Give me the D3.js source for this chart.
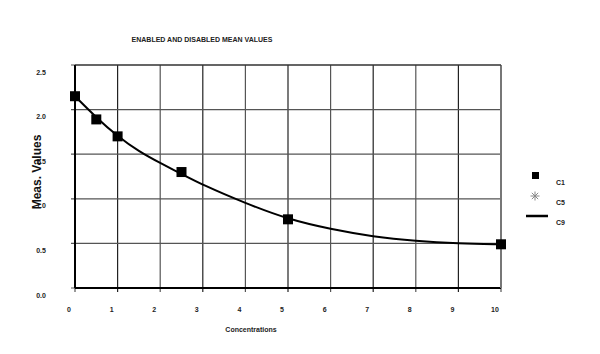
<!DOCTYPE html>
<html>
<head>
<meta charset="utf-8">
<script src="https://cdn.jsdelivr.net/npm/d3@7"></script>
<style>
  body { margin: 0; background: #fff; }
  svg { display: block; font-family: "Liberation Sans", Arial, sans-serif; }
</style>
</head>
<body>
<div id="chart"></div>
<script>
// C1 measured points
const c1X = [0, 0.5, 1, 2.5, 5, 10];
const c1Y = [2.15, 1.89, 1.70, 1.30, 0.77, 0.49];
// C9 fitted curve
const c9X = [0, 0.5, 1, 1.5, 2, 2.5, 3, 4, 5, 6, 7, 8, 9, 10];
const c9Y = [2.15, 1.91, 1.70, 1.53, 1.40, 1.28, 1.155, 0.95, 0.77, 0.66, 0.575, 0.527, 0.50, 0.49];
const xTicks = [0, 1, 2, 3, 4, 5, 6, 7, 8, 9, 10];
const yTicks = [0.0, 0.5, 1.0, 1.5, 2.0, 2.5];
const legendNames = ["C1", "C5", "C9"];

const width = 600, height = 354;
const svg = d3.select("#chart").append("svg")
  .attr("width", width)
  .attr("height", height);

const x = d3.scaleLinear().domain([0, 10]).range([75, 501]);
const y = d3.scaleLinear().domain([0, 2.5]).range([288, 65]);

// grid
const grid = svg.append("g");
grid.selectAll(".vg")
  .data(xTicks)
  .join("line")
  .attr("x1", d => x(d)).attr("x2", d => x(d))
  .attr("y1", y(2.5)).attr("y2", y(0) + 4)
  .attr("stroke", (d, i) => i % 2 ? "#222" : "#555")
  .attr("stroke-width", 1.2);
grid.selectAll(".hg")
  .data(yTicks)
  .join("line")
  .attr("x1", x(0) - 4).attr("x2", x(10))
  .attr("y1", d => y(d)).attr("y2", d => y(d))
  .attr("stroke", "#555")
  .attr("stroke-width", 1.2);

// frame
svg.append("line")
  .attr("x1", x(0)).attr("x2", x(0))
  .attr("y1", y(2.5)).attr("y2", y(0))
  .attr("stroke", "#000").attr("stroke-width", 2);
svg.append("line")
  .attr("x1", x(0)).attr("x2", x(10))
  .attr("y1", y(0)).attr("y2", y(0))
  .attr("stroke", "#000").attr("stroke-width", 2.2);
svg.append("line")
  .attr("x1", x(10)).attr("x2", x(10))
  .attr("y1", y(2.5)).attr("y2", y(0))
  .attr("stroke", "#777").attr("stroke-width", 2);
svg.append("line")
  .attr("x1", x(0)).attr("x2", x(10))
  .attr("y1", y(2.5)).attr("y2", y(2.5))
  .attr("stroke", "#222").attr("stroke-width", 1.2);

// tick labels
svg.selectAll(".xl")
  .data(xTicks)
  .join("text")
  .attr("x", d => x(d) - 6)
  .attr("y", 312)
  .attr("text-anchor", "middle")
  .style("font-size", "7px")
  .style("font-weight", "bold")
  .style("fill", "#222")
  .text(d => d);
svg.selectAll(".yl")
  .data(yTicks)
  .join("text")
  .attr("x", 41)
  .attr("y", d => y(d) + 9.5)
  .attr("text-anchor", "middle")
  .style("font-size", "7px")
  .style("font-weight", "bold")
  .style("fill", "#222")
  .text(d => d.toFixed(1));

// titles
svg.append("text")
  .attr("x", 202).attr("y", 42)
  .attr("text-anchor", "middle")
  .style("font-size", "7px")
  .style("font-weight", "bold")
  .style("fill", "#222")
  .text("ENABLED AND DISABLED MEAN VALUES");
svg.append("text")
  .attr("x", 251).attr("y", 332)
  .attr("text-anchor", "middle")
  .style("font-size", "7px")
  .style("font-weight", "bold")
  .style("fill", "#222")
  .text("Concentrations");
svg.append("text")
  .attr("transform", "translate(41,172) rotate(-90)")
  .attr("text-anchor", "middle")
  .style("font-size", "12px")
  .style("font-weight", "bold")
  .style("fill", "#111")
  .text("Meas. Values");

// C9 curve
const c9 = c9X.map((v, i) => [v, c9Y[i]]);
svg.append("path")
  .datum(c9)
  .attr("d", d3.line().x(d => x(d[0])).y(d => y(d[1])).curve(d3.curveBasis))
  .attr("fill", "none")
  .attr("stroke", "#000")
  .attr("stroke-width", 2);

// C1 squares
const sq = 10;
svg.selectAll(".c1")
  .data(c1X.map((v, i) => [v, c1Y[i]]))
  .join("rect")
  .attr("x", d => x(d[0]) - sq / 2)
  .attr("y", d => y(d[1]) - sq / 2)
  .attr("width", sq).attr("height", sq)
  .attr("fill", "#000");

// legend
const lg = svg.append("g");
lg.append("rect")
  .attr("x", 532).attr("y", 172).attr("width", 7).attr("height", 7)
  .attr("fill", "#000");
const ax = 535, ay = 196, ar = 4.5;
[0, 45, 90, 135].forEach(a => {
  const r = a * Math.PI / 180;
  lg.append("line")
    .attr("x1", ax - ar * Math.cos(r)).attr("x2", ax + ar * Math.cos(r))
    .attr("y1", ay - ar * Math.sin(r)).attr("y2", ay + ar * Math.sin(r))
    .attr("stroke", "#888").attr("stroke-width", 1);
});
lg.append("line")
  .attr("x1", 526).attr("x2", 548)
  .attr("y1", 216).attr("y2", 216)
  .attr("stroke", "#000").attr("stroke-width", 2.5);
lg.selectAll(".lt")
  .data(legendNames)
  .join("text")
  .attr("x", 556)
  .attr("y", (d, i) => 185 + i * 20)
  .style("font-size", "7px")
  .style("font-weight", "bold")
  .style("fill", "#222")
  .text(d => d);
</script>
</body>
</html>
